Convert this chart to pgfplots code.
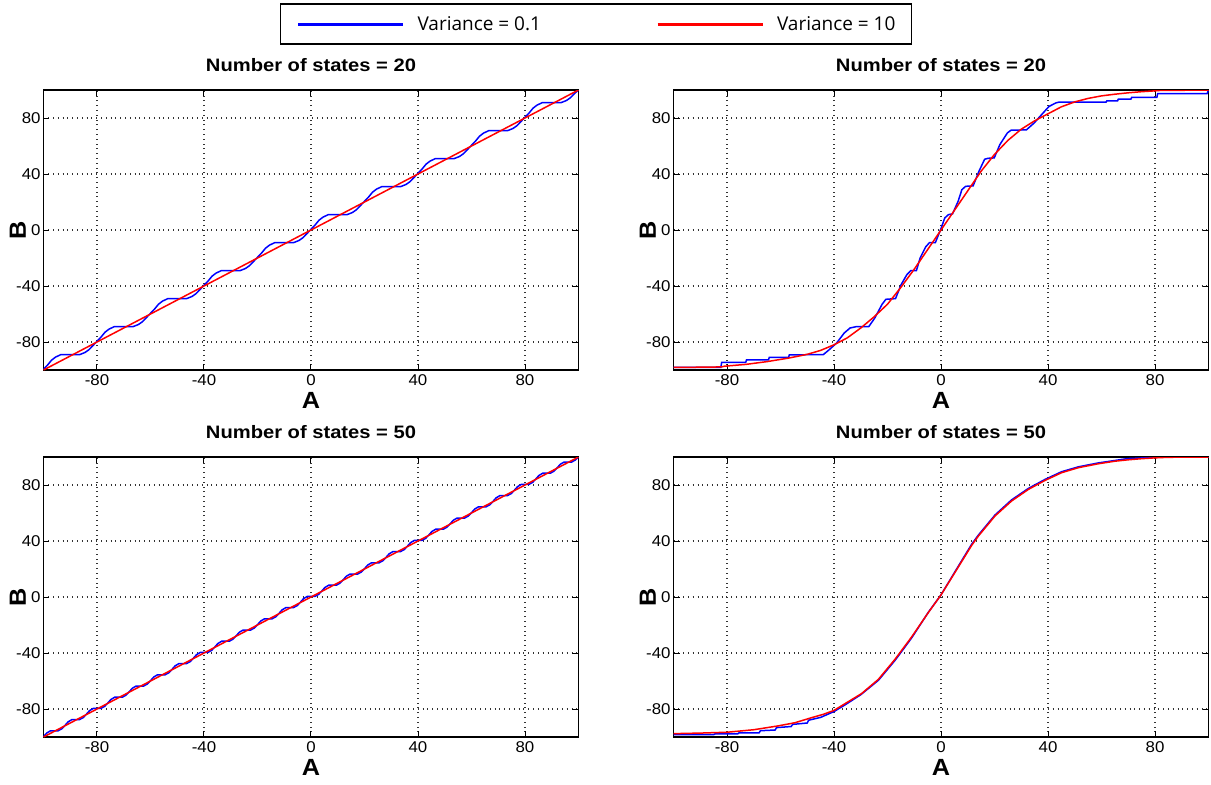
\documentclass[border=0pt]{standalone}
\usepackage{fontspec}
\setmainfont[FakeStretch=1.08]{Liberation Sans}
\newfontfamily\titlefont[FakeStretch=1.12]{Liberation Sans}
\newfontfamily\legfont{Open Sans}
\usepackage{pgfplots}
\pgfplotsset{compat=1.18}

\pgfplotsset{
  myax/.style={
    scale only axis, width=267.5pt, height=140pt,
    xmin=-100,xmax=100,ymin=-100,ymax=100,
    xtick={-80,-40,0,40,80}, ytick={-80,-40,0,40,80},
    xticklabels={-80,-40,0,40,80}, yticklabels={-80,-40,0,40,80},
    tick label style={font=\fontsize{7.8}{9}\selectfont},
    xticklabel style={inner ysep=2pt},
    yticklabel style={inner xsep=1.3pt},
    tick align=inside, major tick length=3pt,
    tick style={black, line width=0.5pt},
    grid=major, major grid style={dotted, line width=0.6pt, black!80},
    axis line style={line width=0.75pt, black},
    title style={font=\titlefont\bfseries\fontsize{9}{11}\selectfont, at={(axis description cs:0.5,1)}, anchor=base, yshift=3.5pt},
    xlabel={A}, ylabel={B},
    xlabel style={font=\bfseries\fontsize{11.7}{14}\selectfont, at={(axis description cs:0.5,-0.107)}, anchor=center},
    ylabel style={font=\bfseries\fontsize{11.7}{14}\selectfont, at={(axis description cs:-0.048,0.5)}, anchor=center},
    every axis plot/.append style={line width=0.75pt},
  },
}

\begin{document}
\begin{tikzpicture}
\path[use as bounding box] (0,0) rectangle (605.5pt,392pt);

% ---------------- top left
\begin{axis}[myax, at={(21.75pt,207pt)}, anchor=south west,
  title={Number of states = 20},
  legend columns=2,
  legend style={at={(1.0327,1.2357)}, anchor=center, draw=black, line width=0.8pt,
    font=\legfont\fontsize{9.5}{11}\selectfont, inner xsep=8pt, inner ysep=6.5pt,
    nodes={inner sep=0pt, text depth=0pt},
    /tikz/every odd column/.append style={column sep=6.5pt},
    /tikz/every even column/.append style={column sep=57.5pt}},
  legend image code/.code={\draw[#1, line width=1.5pt] (0pt,0pt) -- (52.5pt,0pt);},
]
\addplot[blue] coordinates {
(-100,-99.5)(-98.5,-96.5)(-97,-93)(-95.5,-90.8)(-93.5,-89)
(-86.5,-89)(-84.5,-87.5)(-83,-85.5)(-81.5,-82.5)(-80,-79.5)(-78.5,-76.5)(-77,-73)(-75.5,-70.8)(-73.5,-69)
(-66.5,-69)(-64.5,-67.5)(-63,-65.5)(-61.5,-62.5)(-60,-59.5)(-58.5,-56.5)(-57,-53)(-55.5,-50.8)(-53.5,-49)
(-46.5,-49)(-44.5,-47.5)(-43,-45.5)(-41.5,-42.5)(-40,-39.5)(-38.5,-36.5)(-37,-33)(-35.5,-30.8)(-33.5,-29)
(-26.5,-29)(-24.5,-27.5)(-23,-25.5)(-21.5,-22.5)(-20,-19.5)(-18.5,-16.5)(-17,-13)(-15.5,-10.8)(-13.5,-9)
(-6.5,-9)(-4.5,-7.5)(-3,-5.5)(-1.5,-2.5)(0,0.5)(1.5,3.5)(3,7)(4.5,9.2)(6.5,11)
(13.5,11)(15.5,12.5)(17,14.5)(18.5,17.5)(20,20.5)(21.5,23.5)(23,27)(24.5,29.2)(26.5,31)
(33.5,31)(35.5,32.5)(37,34.5)(38.5,37.5)(40,40.5)(41.5,43.5)(43,47)(44.5,49.2)(46.5,51)
(53.5,51)(55.5,52.5)(57,54.5)(58.5,57.5)(60,60.5)(61.5,63.5)(63,67)(64.5,69.2)(66.5,71)
(73.5,71)(75.5,72.5)(77,74.5)(78.5,77.5)(80,80.5)(81.5,83.5)(83,87)(84.5,89.2)(86.5,91)
(93.5,91)(95.5,92.5)(97,94.5)(98.5,97.5)(100,100)
};
\addplot[red] coordinates {(-100,-100)(100,100)};
\legend{Variance = 0.1, Variance = 10}
\end{axis}

% ---------------- top right
\begin{axis}[myax, at={(336.75pt,207pt)}, anchor=south west,
  title={Number of states = 20}]
\addplot[blue] coordinates {
(-100,-98.2)(-82.3,-98.2)(-82,-94.5)(-73,-94.5)(-72.7,-92.8)(-64.5,-92.8)(-64.2,-91)(-57,-91)(-56.7,-89.2)(-44,-89)
(-41.8,-85.5)(-39,-80.7)(-36.2,-73.6)(-34,-70)(-31.6,-69)(-27,-69)
(-24.8,-63)(-22,-53)(-20.6,-49.5)(-17,-49)
(-14.9,-39)(-12.8,-32)(-11.3,-29)(-9.2,-29)
(-7.8,-20)(-5.7,-12)(-4.3,-9)(-2.1,-9)
(0,1)(1.4,8.6)(2.8,11)(4.3,11.5)
(6.4,20.5)(7.8,28.8)(9.2,31.2)(12,31.5)
(14.2,42)(16.3,50.5)(17.5,51.2)(19.9,51.5)
(22,61)(24.8,69.3)(26.2,71.3)(31.9,71.5)
(34.8,76.4)(37.6,82.4)(40.4,88.3)(43,90.8)(44,91.3)
(61.7,91.3)(62,92.3)(66,92.3)(66.3,93.5)(71,93.5)(71.3,94.8)(80.7,94.8)(81,97.5)(99.5,97.5)(100,100)
};
\addplot[red] coordinates {
(-100,-98.2)(-90,-98)(-82,-97.8)(-81,-97.3)(-73,-96)(-65,-94)(-57,-91.5)(-50,-88.8)(-45,-86)
(-40,-82)(-35,-77)(-30,-70)(-25,-62)(-20,-53)(-15,-41)(-10,-28)(-5,-14)(0,0)
(5,14)(10,28)(15,42)(20,54)(25,64)(30,72)(35,78)(40,83)(45,88)(50,91.5)(55,94)
(60,95.8)(65,97)(70,98)(75,98.8)(80,99.4)(82,99.7)(90,99.8)(100,100)
};
\end{axis}

% ---------------- bottom left
\begin{axis}[myax, at={(21.75pt,23.5pt)}, anchor=south west,
  title={Number of states = 50}]
\addplot[blue] coordinates {
(-100,-99.8)(-98.8,-97.2)(-97.4,-95.6)
(-94.6,-95.6)(-93.2,-94.2)(-92,-91.8)(-90.8,-89.2)(-89.4,-87.6)
(-86.6,-87.6)(-85.2,-86.2)(-84,-83.8)(-82.8,-81.2)(-81.4,-79.6)
(-78.6,-79.6)(-77.2,-78.2)(-76,-75.8)(-74.8,-73.2)(-73.4,-71.6)
(-70.6,-71.6)(-69.2,-70.2)(-68,-67.8)(-66.8,-65.2)(-65.4,-63.6)
(-62.6,-63.6)(-61.2,-62.2)(-60,-59.8)(-58.8,-57.2)(-57.4,-55.6)
(-54.6,-55.6)(-53.2,-54.2)(-52,-51.8)(-50.8,-49.2)(-49.4,-47.6)
(-46.6,-47.6)(-45.2,-46.2)(-44,-43.8)(-42.8,-41.2)(-41.4,-39.6)
(-38.6,-39.6)(-37.2,-38.2)(-36,-35.8)(-34.8,-33.2)(-33.4,-31.6)
(-30.6,-31.6)(-29.2,-30.2)(-28,-27.8)(-26.8,-25.2)(-25.4,-23.6)
(-22.6,-23.6)(-21.2,-22.2)(-20,-19.8)(-18.8,-17.2)(-17.4,-15.6)
(-14.6,-15.6)(-13.2,-14.2)(-12,-11.8)(-10.8,-9.2)(-9.4,-7.6)
(-6.6,-7.6)(-5.2,-6.2)(-4,-3.8)(-2.8,-1.2)(-1.4,0.4)
(1.4,0.4)(2.8,1.8)(4,4.2)(5.2,6.8)(6.6,8.4)
(9.4,8.4)(10.8,9.8)(12,12.2)(13.2,14.8)(14.6,16.4)
(17.4,16.4)(18.8,17.8)(20,20.2)(21.2,22.8)(22.6,24.4)
(25.4,24.4)(26.8,25.8)(28,28.2)(29.2,30.8)(30.6,32.4)
(33.4,32.4)(34.8,33.8)(36,36.2)(37.2,38.8)(38.6,40.4)
(41.4,40.4)(42.8,41.8)(44,44.2)(45.2,46.8)(46.6,48.4)
(49.4,48.4)(50.8,49.8)(52,52.2)(53.2,54.8)(54.6,56.4)
(57.4,56.4)(58.8,57.8)(60,60.2)(61.2,62.8)(62.6,64.4)
(65.4,64.4)(66.8,65.8)(68,68.2)(69.2,70.8)(70.6,72.4)
(73.4,72.4)(74.8,73.8)(76,76.2)(77.2,78.8)(78.6,80.4)
(81.4,80.4)(82.8,81.8)(84,84.2)(85.2,86.8)(86.6,88.4)
(89.4,88.4)(90.8,89.8)(92,92.2)(93.2,94.8)(94.6,96.4)
(97.4,96.4)(98.8,97.8)(100,100)
};
\addplot[red] coordinates {(-100,-100)(100,100)};
\end{axis}

% ---------------- bottom right
\begin{axis}[myax, at={(336.75pt,23.5pt)}, anchor=south west,
  title={Number of states = 50}]
\addplot[blue] coordinates {
(-100,-98.3)(-85,-98.3)(-84.5,-97.8)(-76,-97.8)(-75.5,-97)(-68,-97)(-67.5,-95.5)(-62,-95)(-61.5,-93.3)
(-56,-92.5)(-55.5,-91)(-50,-90)(-49.5,-88)(-45,-86)(-40,-81.8)(-36,-77.2)(-30,-69.8)(-23.4,-59.5)
(-17.2,-45.3)(-11,-29.3)(-4.7,-10.8)(0,1.5)(5.2,18)(11.5,37.8)(14,44.3)(20.2,58.6)(26.4,69.4)
(32.7,77.6)(38.9,84)(45.1,89.5)(51.4,93)(58.9,95.8)(65,97.5)(68,98.4)(70,98.9)(76,99.4)(80,99.8)
(85,100)(100,100)
};
\addplot[red] coordinates {
(-100,-97.6)(-90,-97.2)(-80,-96.6)(-70,-94.8)(-61,-92.1)(-54.6,-89.8)(-48.4,-86.2)(-44,-83.8)
(-40,-81)(-35.9,-76.2)(-29.7,-69)(-23.4,-58.8)(-17.2,-44.5)(-11,-28.6)(-4.7,-11)(0,1.5)
(5.2,17.5)(11.5,37)(14,43.6)(20.2,57.9)(26.4,68.6)(32.7,76.9)(38.9,83.3)(45.1,88.8)(51.4,92.4)
(58.9,95.2)(65,97)(70,98)(75,98.8)(80,99.4)(85,99.8)(100,100)
};
\end{axis}
\end{tikzpicture}
\end{document}
